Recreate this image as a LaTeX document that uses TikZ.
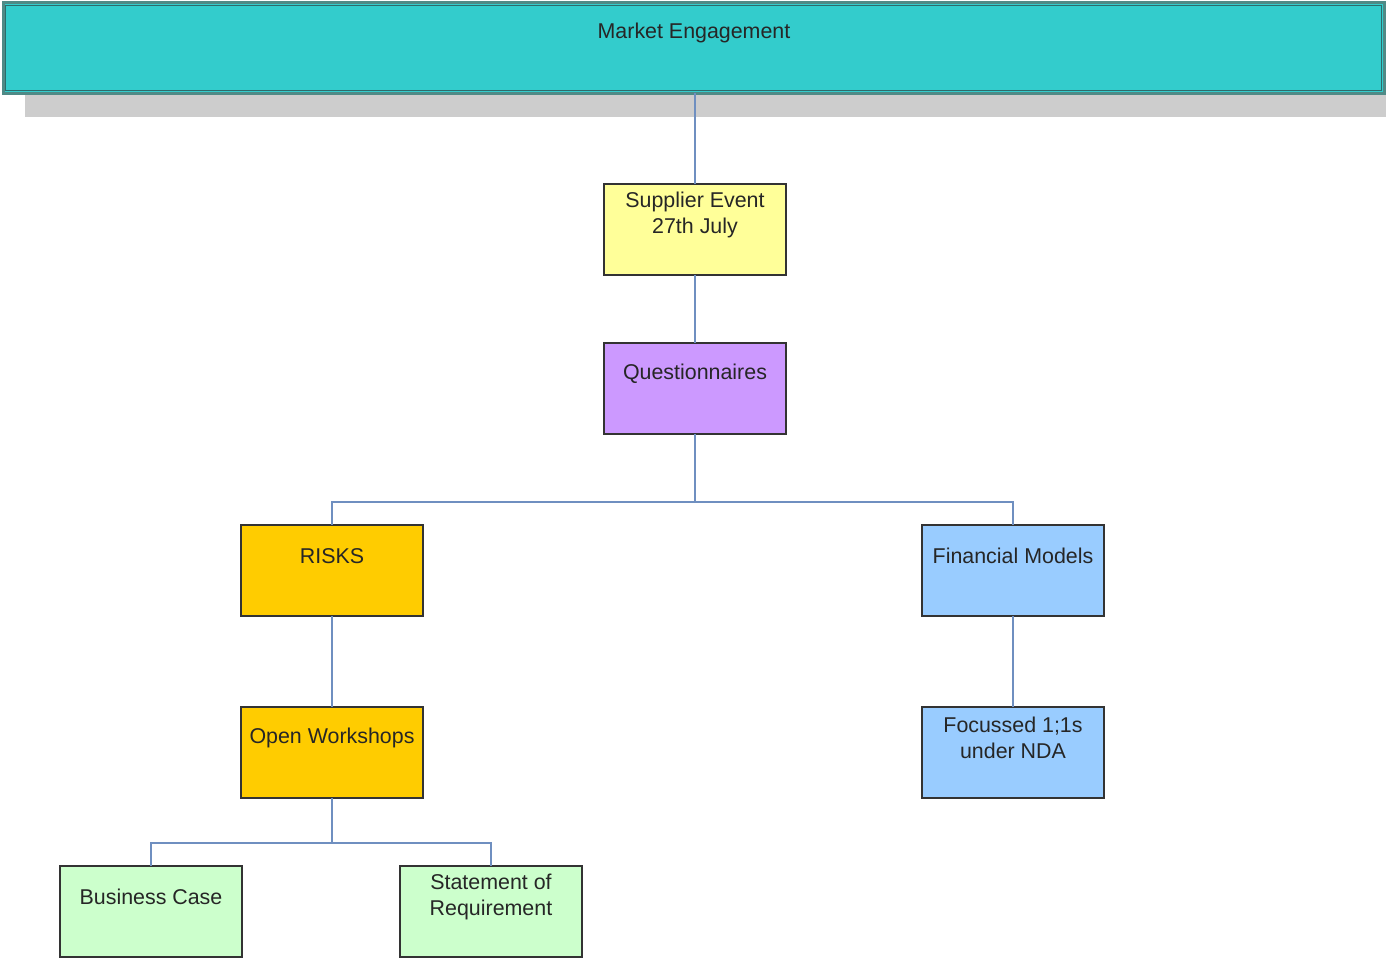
\documentclass[tikz,border=0pt]{standalone}
\usepackage{fontspec}
\setmainfont{Liberation Sans}
\definecolor{teal1}{HTML}{33CCCC}
\definecolor{tealb}{HTML}{2E6B6B}
\definecolor{tealo}{HTML}{4F8A86}
\definecolor{cyel}{HTML}{FFFF99}
\definecolor{cpur}{HTML}{CC99FF}
\definecolor{corg}{HTML}{FFCC00}
\definecolor{cblu}{HTML}{99CCFF}
\definecolor{cgrn}{HTML}{CCFFCC}
\definecolor{conn}{HTML}{6F8FC0}
\definecolor{shad}{HTML}{CDCDCD}
\definecolor{bord}{HTML}{333333}
\begin{document}
\begin{tikzpicture}[x=1pt,y=-1pt,
  boxnode/.style={draw=bord, line width=1.8pt, minimum width=182pt, minimum height=91pt, inner sep=0pt, outer sep=0pt, anchor=north west},
  boxlabel/.style={font=\fontsize{21.4}{25.5}\selectfont, text=black!85, align=center, anchor=center},
  link/.style={draw=conn, line width=1.8pt}]
\useasboundingbox (0,0) rectangle (1386,958);
% top bar
\fill[shad] (25,93) rectangle (1386,117);
\node[draw=tealo, line width=3pt, fill=teal1, minimum width=1381pt, minimum height=90pt, inner sep=0pt, outer sep=0pt, anchor=north west] (top) at (3,3) {};
\draw[tealb, line width=1.5pt] ([shift={(2.5pt,-2.5pt)}]top.north west) rectangle ([shift={(-2.5pt,2.5pt)}]top.south east);
\node[boxlabel] (toplab) at (694,33) {Market Engagement};
% boxes
\node[boxnode, fill=cyel] (sup) at (604,184) {};
\node[boxlabel] (suplab) at (695,215) {Supplier Event\\27th July};
\node[boxnode, fill=cpur] (que) at (604,343) {};
\node[boxlabel] (quelab) at (695,374) {Questionnaires};
\node[boxnode, fill=corg] (risk) at (241,525) {};
\node[boxlabel] (risklab) at (332,556) {RISKS};
\node[boxnode, fill=cblu] (fin) at (922,525) {};
\node[boxlabel] (finlab) at (1013,556) {Financial Models};
\node[boxnode, fill=corg] (open) at (241,707) {};
\node[boxlabel] (openlab) at (332,738) {Open Workshops};
\node[boxnode, fill=cblu] (foc) at (922,707) {};
\node[boxlabel] (foclab) at (1013,738) {Focussed 1;1s\\under NDA};
\node[boxnode, fill=cgrn] (bus) at (60,866) {};
\node[boxlabel] (buslab) at (151,897) {Business Case};
\node[boxnode, fill=cgrn] (sor) at (400,866) {};
\node[boxlabel] (sorlab) at (491,897) {Statement of\\Requirement};
% connectors
\coordinate (j1) at (695,502);
\coordinate (j2) at (332,843);
\draw[link] (top.south -| sup.north) -- (sup.north);
\draw[link] (sup.south) -- (que.north);
\draw[link] (que.south) -- (j1);
\draw[link] (risk.north) |- (j1) -| (fin.north);
\draw[link] (risk.south) -- (open.north);
\draw[link] (fin.south) -- (foc.north);
\draw[link] (open.south) -- (j2);
\draw[link] (bus.north) |- (j2) -| (sor.north);
\end{tikzpicture}
\end{document}
